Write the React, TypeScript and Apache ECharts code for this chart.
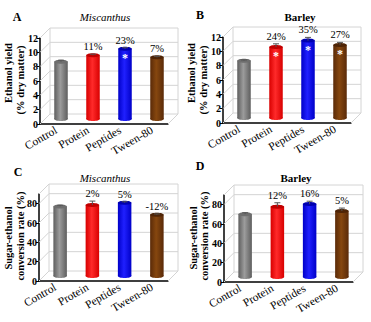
import React, { useEffect, useRef } from 'react';
import * as echarts from 'echarts';

const categories = ['Control', 'Protein', 'Peptides', 'Tween-80'];
const barColors = [
  ['#5e5e5e', '#9c9c9c', '#6e6e6e'],
  ['#d80000', '#ff2a2a', '#c00000'],
  ['#0000c8', '#2020ff', '#0000b0'],
  ['#5a2a08', '#86470f', '#4e2406'],
];

// Panel A: ethanol yield, Miscanthus
const yieldMiscanthus = [8.0, 8.9, 9.8, 8.6];
const errYieldMiscanthus = [0.2, 0.15, 0.15, 0.15];
const pctYieldMiscanthus = ['', '11%', '23%', '7%'];
const starYieldMiscanthus = [false, false, true, false];

// Panel B: ethanol yield, Barley
const yieldBarley = [8.0, 9.9, 10.8, 10.2];
const errYieldBarley = [0.1, 0.45, 0.45, 0.35];
const pctYieldBarley = ['', '24%', '35%', '27%'];
const starYieldBarley = [false, true, true, true];

// Panel C: sugar-ethanol conversion, Miscanthus
const convMiscanthus = [72, 73.5, 75.8, 63.4];
const errConvMiscanthus = [1.2, 4, 1, 0.8];
const pctConvMiscanthus = ['', '2%', '5%', '-12%'];
const starConvMiscanthus = [false, false, false, false];

// Panel D: sugar-ethanol conversion, Barley
const convBarley = [65, 72.8, 75.4, 68.3];
const errConvBarley = [1.5, 4, 3, 3];
const pctConvBarley = ['', '12%', '16%', '5%'];
const starConvBarley = [false, false, false, false];

const yieldLevels = [0, 2, 4, 6, 8, 10, 12];
const convLevels = [0, 20, 40, 60, 80, 90];

const SERIF = "'Liberation Serif', 'Times New Roman', serif";
const DX = 10;
const DY = 10;

type Panel = {
  grid: { left: number; top: number; width: number; height: number };
  max: number;
  interval: number;
  levels: number[];
  values: number[];
  errs: number[];
  pcts: string[];
  stars: boolean[];
};

const panels: Panel[] = [
  { grid: { left: 40, top: 38, width: 128, height: 86 }, max: 12, interval: 2, levels: yieldLevels, values: yieldMiscanthus, errs: errYieldMiscanthus, pcts: pctYieldMiscanthus, stars: starYieldMiscanthus },
  { grid: { left: 223, top: 37, width: 128, height: 86 }, max: 12, interval: 2, levels: yieldLevels, values: yieldBarley, errs: errYieldBarley, pcts: pctYieldBarley, stars: starYieldBarley },
  { grid: { left: 39, top: 194, width: 129, height: 87 }, max: 90, interval: 20, levels: convLevels, values: convMiscanthus, errs: errConvMiscanthus, pcts: pctConvMiscanthus, stars: starConvMiscanthus },
  { grid: { left: 224, top: 195, width: 129, height: 87 }, max: 90, interval: 20, levels: convLevels, values: convBarley, errs: errConvBarley, pcts: pctConvBarley, stars: starConvBarley },
];

function cylGradient(c: string[]) {
  return new echarts.graphic.LinearGradient(0, 0, 1, 0, [
    { offset: 0, color: c[0] },
    { offset: 0.45, color: c[1] },
    { offset: 1, color: c[0] },
  ]);
}

function buildOption() {
  const grids: any[] = [];
  const xAxes: any[] = [];
  const yAxes: any[] = [];
  const series: any[] = [];

  panels.forEach((p, i) => {
    grids.push({ left: p.grid.left, top: p.grid.top, width: p.grid.width, height: p.grid.height, containLabel: false });
    xAxes.push({
      type: 'category',
      gridIndex: i,
      data: categories,
      boundaryGap: true,
      axisLine: { lineStyle: { color: '#000', width: 1.5 } },
      axisTick: { alignWithLabel: true, length: 3, lineStyle: { color: '#000' } },
      axisLabel: { rotate: 30, fontSize: 11.5, fontFamily: SERIF, color: '#000', margin: 5, interval: 0 },
      splitLine: { show: false },
    });
    yAxes.push({
      type: 'value',
      gridIndex: i,
      min: 0,
      max: p.max,
      interval: p.interval,
      axisLine: { show: true, lineStyle: { color: '#000', width: 1.5 } },
      axisTick: { show: true, length: 3, lineStyle: { color: '#000' } },
      axisLabel: { fontSize: 10, fontWeight: 'bold', fontFamily: SERIF, color: '#000', margin: 2, showMaxLabel: p.max === 12 },
      splitLine: { show: false },
    });

    const levels = p.levels;
    const maxLevel = p.max;
    series.push({
      type: 'custom',
      xAxisIndex: i,
      yAxisIndex: i,
      z: 1,
      silent: true,
      data: levels.map((l) => [0, l]),
      encode: { x: 0, y: 1 },
      renderItem: (params: any, api: any) => {
        const cs = params.coordSys;
        const x0 = cs.x;
        const x1 = cs.x + cs.width;
        const y = api.coord([0, api.value(1)])[1];
        const yTop = api.coord([0, maxLevel])[1];
        const line = { stroke: '#d4d4d4', lineWidth: 1, fill: null };
        const children: any[] = [
          { type: 'polyline', shape: { points: [[x0, y], [x0 + DX, y - DY], [x1 + DX, y - DY]] }, style: line },
        ];
        if (params.dataIndex === 0) {
          children.push({ type: 'line', shape: { x1: x1, y1: y, x2: x1 + DX, y2: y - DY }, style: line });
          children.push({ type: 'line', shape: { x1: x1 + DX, y1: y - DY, x2: x1 + DX, y2: yTop - DY }, style: line });
          children.push({ type: 'line', shape: { x1: x0 + DX, y1: y - DY, x2: x0 + DX, y2: yTop - DY }, style: line });
        }
        return { type: 'group', children };
      },
    });

    const pcts = p.pcts;
    const stars = p.stars;
    series.push({
      type: 'custom',
      xAxisIndex: i,
      yAxisIndex: i,
      z: 3,
      silent: true,
      data: p.values.map((v, k) => [k, v, p.errs[k]]),
      encode: { x: 0, y: 1 },
      renderItem: (params: any, api: any) => {
        const idx = api.value(0);
        const v = api.value(1);
        const e = api.value(2);
        const top = api.coord([idx, v]);
        const base = api.coord([idx, 0]);
        const et = api.coord([idx, v + e]);
        const cx = top[0] + DX / 2;
        const ty = top[1] - DY / 2;
        const by = base[1] - DY / 2;
        const ey = et[1] - DY / 2;
        const w = 13.5;
        const ry = 2;
        const c = barColors[idx];
        const children: any[] = [
          { type: 'ellipse', shape: { cx, cy: by, rx: w / 2, ry }, style: { fill: cylGradient(c) } },
          { type: 'rect', shape: { x: cx - w / 2, y: ty, width: w, height: by - ty }, style: { fill: cylGradient(c) } },
          { type: 'ellipse', shape: { cx, cy: ty, rx: w / 2, ry }, style: { fill: c[2] } },
          { type: 'line', shape: { x1: cx, y1: ty, x2: cx, y2: ey }, style: { stroke: '#555', lineWidth: 1 } },
          { type: 'line', shape: { x1: cx - 3, y1: ey, x2: cx + 3, y2: ey }, style: { stroke: '#555', lineWidth: 1 } },
        ];
        if (pcts[idx]) {
          children.push({
            type: 'text',
            style: { x: cx, y: ey - 2, text: pcts[idx], align: 'center', verticalAlign: 'bottom', fontSize: 10.5, fontFamily: SERIF, fill: '#000' },
          });
        }
        if (stars[idx]) {
          children.push({
            type: 'text',
            style: { x: cx, y: ty + 9, text: '*', align: 'center', verticalAlign: 'middle', fontSize: 12, fontWeight: 'bold', fontFamily: SERIF, fill: '#fff' },
          });
        }
        return { type: 'group', children };
      },
    });
  });

  const t = (x: number, y: number, text: string, extra: any = {}) => ({
    type: 'text',
    x,
    y,
    style: { text, align: 'center', verticalAlign: 'middle', fontFamily: SERIF, fill: '#000', fontSize: 11, ...extra },
  });
  const vt = (x: number, y: number, text: string) => ({
    type: 'text',
    x,
    y,
    rotation: Math.PI / 2,
    style: { text, align: 'center', verticalAlign: 'middle', fontFamily: SERIF, fill: '#000', fontSize: 10.5, fontWeight: 'bold' },
  });

  const graphic = [
    t(17, 17, 'A', { fontWeight: 'bold', fontSize: 12 }),
    t(105, 17, 'Miscanthus', { fontStyle: 'italic' }),
    t(200, 15, 'B', { fontWeight: 'bold', fontSize: 12 }),
    t(300, 17, 'Barley', { fontWeight: 'bold' }),
    t(18, 172, 'C', { fontWeight: 'bold', fontSize: 12 }),
    t(105, 178, 'Miscanthus', { fontStyle: 'italic' }),
    t(200, 166, 'D', { fontWeight: 'bold', fontSize: 12 }),
    t(296, 178, 'Barley', { fontWeight: 'bold' }),
    vt(8.5, 73, 'Ethanol yield'),
    vt(20, 80, '(% dry matter)'),
    vt(191.5, 73, 'Ethanol yield'),
    vt(203, 80, '(% dry matter)'),
    vt(8.5, 238, 'Sugar-ethanol'),
    vt(20, 236, 'conversion rate (%)'),
    vt(193, 238, 'Sugar-ethanol'),
    vt(204.5, 236, 'conversion rate (%)'),
  ];

  return {
    animation: false,
    backgroundColor: '#fff',
    grid: grids,
    xAxis: xAxes,
    yAxis: yAxes,
    series,
    graphic,
  };
}

export default function App() {
  const ref = useRef<HTMLDivElement>(null);
  useEffect(() => {
    if (!ref.current) return;
    const chart = echarts.init(ref.current, undefined, { renderer: 'svg' });
    chart.setOption(buildOption() as any);
    return () => chart.dispose();
  }, []);
  return <div ref={ref} style={{ position: 'fixed', left: 0, top: 0, width: 371, height: 322 }} />;
}
